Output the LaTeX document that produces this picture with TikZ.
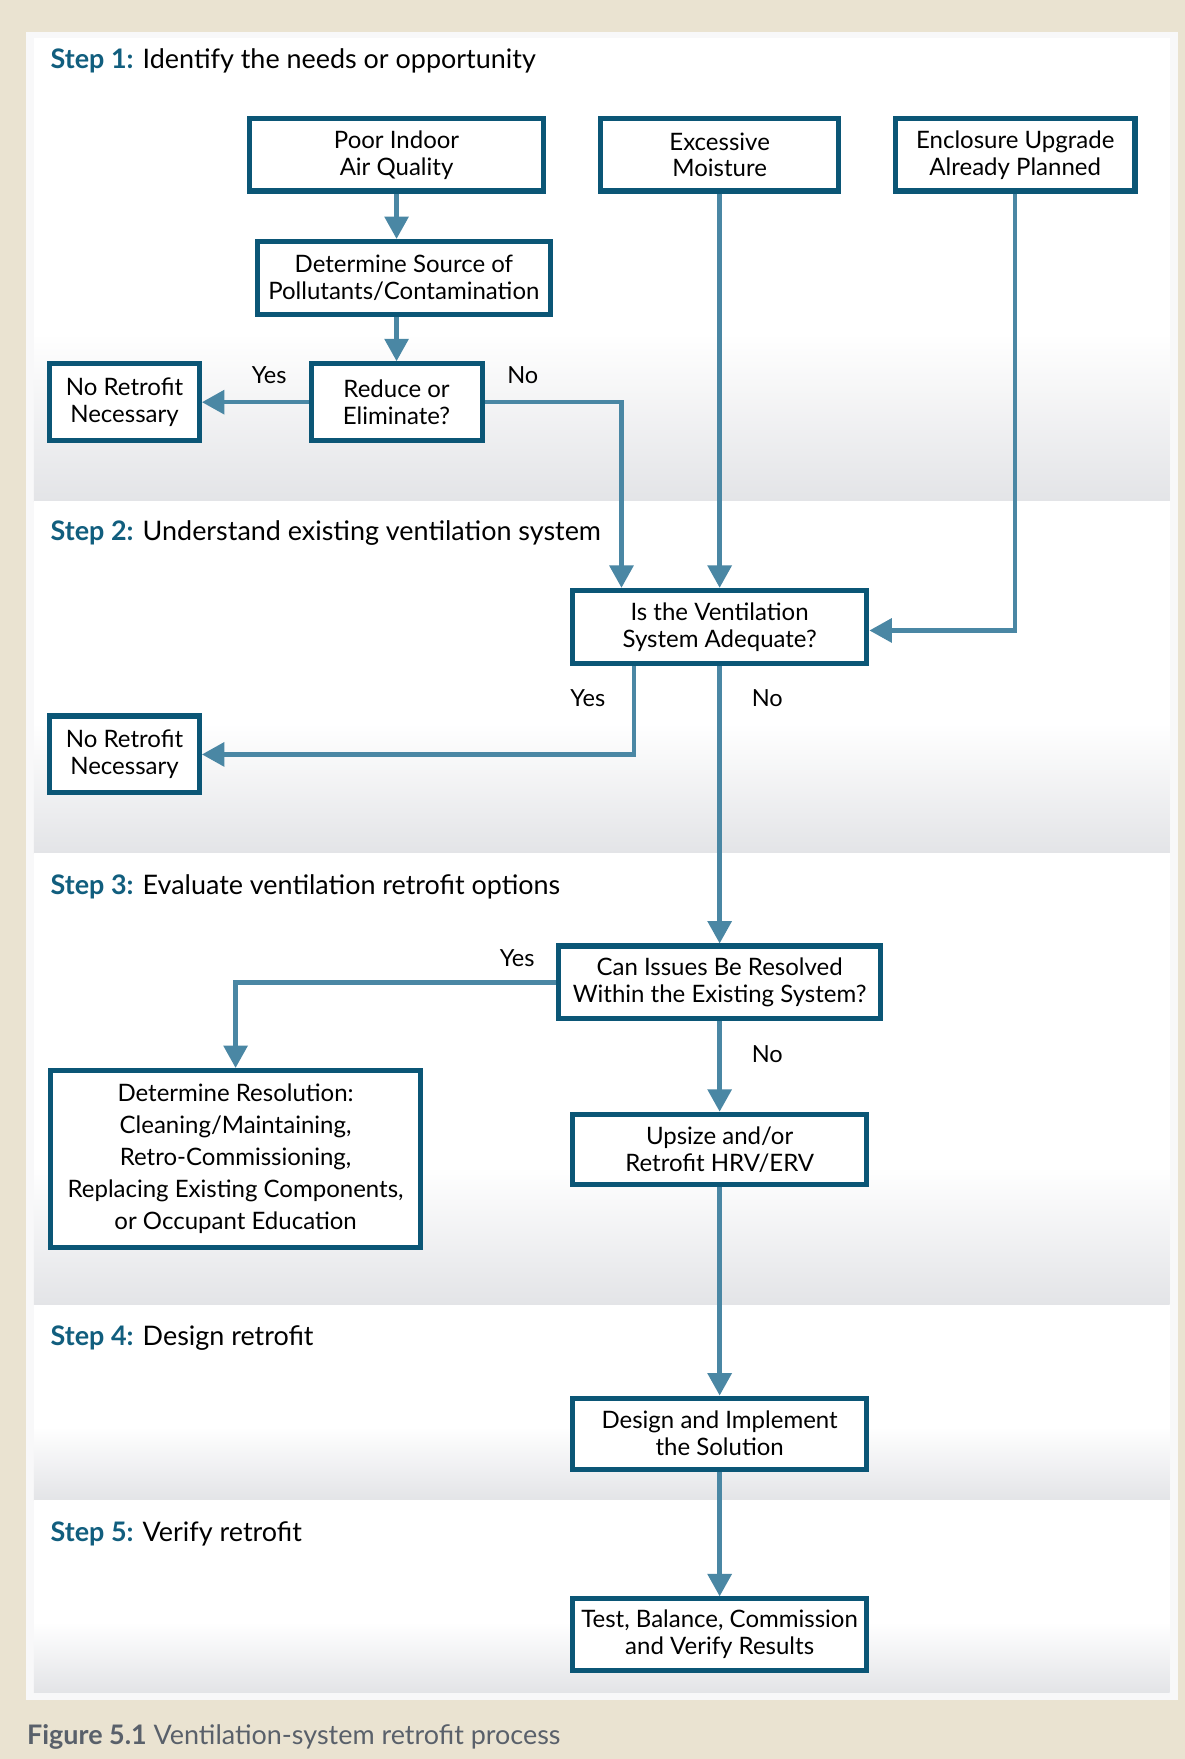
\documentclass[tikz,border=0pt]{standalone}
\usepackage{fontspec}
\setmainfont{Lato}
\usetikzlibrary{arrows.meta,calc}
\definecolor{beige}{HTML}{EAE3D1}
\definecolor{boxc}{HTML}{0B5676}
\definecolor{arrc}{HTML}{4A87A4}
\definecolor{stepc}{HTML}{115E7E}
\definecolor{bandg}{HTML}{E3E4E7}
\definecolor{capc}{HTML}{59606A}
\definecolor{edgec}{HTML}{F8F8F9}
\begin{document}
\begin{tikzpicture}[x=1pt,y=-1pt,
  box/.style={draw=boxc,line width=4.5pt,fill=white,align=center,inner sep=0pt,outer sep=2.25pt,
    font=\fontsize{21.4}{24}\selectfont,text=black},
  conn/.style={draw=arrc,line width=4pt,-{Triangle[width=21pt,length=20pt]}},
  lbl/.style={font=\fontsize{21}{24}\selectfont,text=black,inner sep=0pt},
  steplbl/.style={anchor=base west,font=\fontsize{24}{28}\selectfont,text=black,inner sep=0pt},
  band/.style={fill=white,draw=none},
  bandshade/.style={top color=white,bottom color=bandg,draw=none}
]
\useasboundingbox (0,0) rectangle (1056,1568);
\fill[beige] (0,0) rectangle (1056,1568);
\fill[edgec] (23,28.6) rectangle (1050,1515.5);
% bands
\fill[band] (30.3,34) rectangle (1042.6,447);
\shade[bandshade] (30.3,297) rectangle (1042.6,447);
\fill[band] (30.3,447) rectangle (1042.6,760.5);
\shade[bandshade] (30.3,645) rectangle (1042.6,760.5);
\fill[band] (30.3,760.5) rectangle (1042.6,1163);
\shade[bandshade] (30.3,1040) rectangle (1042.6,1163);
\fill[band] (30.3,1163) rectangle (1042.6,1337.5);
\shade[bandshade] (30.3,1272) rectangle (1042.6,1337.5);
\fill[band] (30.3,1337.5) rectangle (1042.6,1508.6);
\shade[bandshade] (30.3,1446) rectangle (1042.6,1508.6);

% step labels
\node[steplbl] (s1) at (45,61) {\textbf{\color{stepc}Step 1:} Identify the needs or opportunity};
\node[steplbl] (s2) at (45,482) {\textbf{\color{stepc}Step 2:} Understand existing ventilation system};
\node[steplbl] (s3) at (45,797) {\textbf{\color{stepc}Step 3:} Evaluate ventilation retrofit options};
\node[steplbl] (s4) at (45,1199) {\textbf{\color{stepc}Step 4:} Design retrofit};
\node[steplbl] (s5) at (45,1374) {\textbf{\color{stepc}Step 5:} Verify retrofit};

% boxes
\node[box,minimum width=262.5pt,minimum height=64.5pt] (piaq) at (353.5,138) {Poor Indoor\\Air Quality};
\node[box,minimum width=212.5pt,minimum height=64.5pt] (moist) at (641.5,138) {Excessive\\Moisture};
\node[box,minimum width=213.5pt,minimum height=64.5pt] (encl) at (905,138) {Enclosure Upgrade\\Already Planned};
\node[box,minimum width=261.5pt,minimum height=65.5pt] (dsrc) at (360,248) {Determine Source of\\Pollutants/Contamination};
\node[box,minimum width=152.5pt,minimum height=68.5pt] (reduce) at (353.5,358.5) {Reduce or\\Eliminate?};
\node[box,minimum width=133.5pt,minimum height=68.5pt] (nr1) at (111,358.5) {No Retrofit\\Necessary};
\node[box,minimum width=262.5pt,minimum height=65.5pt] (vent) at (641.5,559) {Is the Ventilation\\System Adequate?};
\node[box,minimum width=133.5pt,minimum height=68.5pt] (nr2) at (111,672.5) {No Retrofit\\Necessary};
\node[box,minimum width=286.5pt,minimum height=64.5pt] (canres) at (641.5,875.5) {Can Issues Be Resolved\\Within the Existing System?};
\node[box,minimum width=329.5pt,minimum height=157.5pt,font=\fontsize{21.4}{28.5}\selectfont] (detres) at (210,1033) {Determine Resolution:\\Cleaning/Maintaining,\\Retro-Commissioning,\\Replacing Existing Components,\\or Occupant Education};
\node[box,minimum width=262.5pt,minimum height=62.5pt] (upsize) at (641.5,1024.5) {Upsize and/or\\Retrofit HRV/ERV};
\node[box,minimum width=262.5pt,minimum height=63.5pt] (design) at (641.5,1278) {Design and Implement\\the Solution};
\node[box,minimum width=262.5pt,minimum height=63.5pt] (test) at (641.5,1457) {Test, Balance, Commission\\and Verify Results};

% coordinates for bends
\coordinate (rN) at (554,358.5);
\coordinate (eB) at (905,562);
\coordinate (vY) at (565,672.5);
\coordinate (cY) at (210,876);

% connectors
\draw[conn] (piaq.south) -- (piaq.south |- dsrc.north);
\draw[conn] (piaq.south |- dsrc.south) -- (piaq.south |- reduce.north);
\draw[conn] (reduce.west) -- (nr1.east);
\draw[conn] (reduce.east) -- (rN) -- (rN |- vent.north);
\draw[conn] (moist.south) -- (vent.north);
\draw[conn] (encl.south) -- (eB) -- (eB -| vent.east);
\draw[conn] (vY |- vent.south) -- (vY) -- (nr2.east |- vY);
\draw[conn] (vent.south) -- (canres.north);
\draw[conn] (canres.west |- cY) -- (cY) -- (detres.north);
\draw[conn] (canres.south) -- (upsize.north);
\draw[conn] (upsize.south) -- (design.north);
\draw[conn] (design.south) -- (test.north);

% labels
\node[lbl] (y1) at (240,334) {Yes};
\node[lbl] (n1) at (466,334) {No};
\node[lbl] (y2) at (524,622) {Yes};
\node[lbl] (n2) at (684,622) {No};
\node[lbl] (y3) at (461,854) {Yes};
\node[lbl] (n3) at (684,940) {No};

% caption
\node[anchor=base west,inner sep=0pt,font=\fontsize{24}{28}\selectfont,text=capc] (cap) at (24,1555) {\textbf{Figure 5.1} Ventilation-system retrofit process};
\end{tikzpicture}
\end{document}
